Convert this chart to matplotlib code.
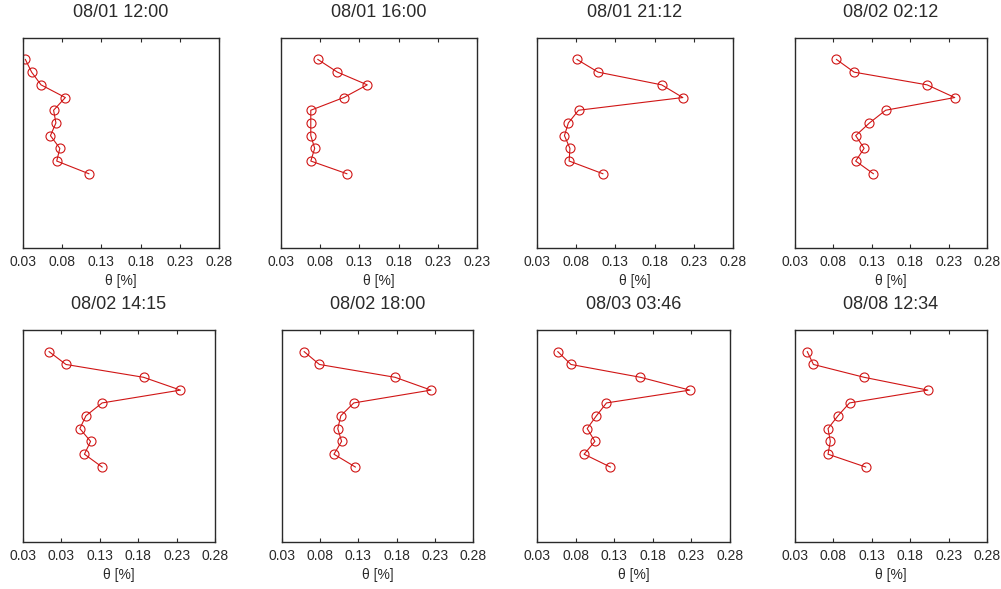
import numpy as np
import matplotlib
matplotlib.use("Agg")
import matplotlib.pyplot as plt

plt.rcParams['font.family'] = ['Liberation Sans', 'DejaVu Sans']

# soil moisture profiles, one per time stamp (top sensor first)
titles = ["08/01 12:00", "08/01 16:00", "08/01 21:12", "08/02 02:12",
          "08/02 14:15", "08/02 18:00", "08/03 03:46", "08/08 12:34"]

sensor = np.arange(1, 11)

theta_0801_1200 = [0.033, 0.041, 0.053, 0.084, 0.069, 0.072, 0.065, 0.077, 0.073, 0.114]
theta_0801_1600 = [0.077, 0.102, 0.140, 0.110, 0.068, 0.068, 0.068, 0.073, 0.068, 0.114]
theta_0801_2112 = [0.081, 0.108, 0.189, 0.216, 0.083, 0.070, 0.065, 0.072, 0.071, 0.114]
theta_0802_0212 = [0.084, 0.107, 0.202, 0.238, 0.148, 0.127, 0.109, 0.120, 0.109, 0.132]
theta_0802_1415 = [0.064, 0.086, 0.187, 0.235, 0.133, 0.112, 0.104, 0.118, 0.110, 0.133]
theta_0802_1800 = [0.059, 0.079, 0.178, 0.225, 0.124, 0.107, 0.103, 0.108, 0.098, 0.126]
theta_0803_0346 = [0.057, 0.074, 0.164, 0.228, 0.120, 0.107, 0.095, 0.105, 0.091, 0.125]
theta_0808_1234 = [0.046, 0.054, 0.120, 0.203, 0.101, 0.086, 0.073, 0.076, 0.073, 0.122]

profiles = [theta_0801_1200, theta_0801_1600, theta_0801_2112, theta_0802_0212,
            theta_0802_1415, theta_0802_1800, theta_0803_0346, theta_0808_1234]

xticks = [0.03, 0.08, 0.13, 0.18, 0.23, 0.28]
xlabels = ["0.03", "0.08", "0.13", "0.18", "0.23", "0.28"]
xlabels_p2 = ["0.03", "0.08", "0.13", "0.18", "0.23", "0.23"]
xlabels_p5 = ["0.03", "0.03", "0.13", "0.18", "0.23", "0.28"]
tick_labels = [xlabels, xlabels_p2, xlabels, xlabels,
               xlabels_p5, xlabels, xlabels, xlabels]

W, H = 1001, 589
fig = plt.figure(figsize=(W / 100, H / 100), dpi=100)
fig.patch.set_facecolor('white')

# axes boxes in pixels: (left, right, top, bottom)
boxes = [(23, 219, 38, 248), (281, 477, 38, 248), (537, 733, 38, 248), (795, 987, 38, 248),
         (23, 215, 330, 542), (282, 473, 330, 542), (537, 730, 330, 542), (795, 987, 330, 542)]

red = '#d01515'
ink = '#2a2a2a'

for i in range(8):
    l, r, t, b = boxes[i]
    ax = fig.add_axes([l / W, 1 - b / H, (r - l) / W, (b - t) / H])
    ax.plot(profiles[i], sensor, '-', color=red, lw=0.8,
            marker='o', ms=6.5, mfc='none', mec=red, mew=0.8)
    ax.set_xlim(0.03, 0.28)
    ax.set_ylim(15.85, -0.69)
    ax.set_xticks(xticks)
    ax.set_xticklabels(tick_labels[i], fontsize=10)
    ax.set_yticks([])
    ax.tick_params(axis='x', direction='in', length=3, width=0.8, top=True,
                   pad=5, colors=ink)
    for s in ax.spines.values():
        s.set_linewidth(1.0)
        s.set_color(ink)
    ax.set_xlabel("θ [%]", fontsize=10, labelpad=4, color=ink)
    ax.set_title(titles[i], fontsize=13, pad=15, color=ink)

fig.savefig("out.png", dpi=100)
